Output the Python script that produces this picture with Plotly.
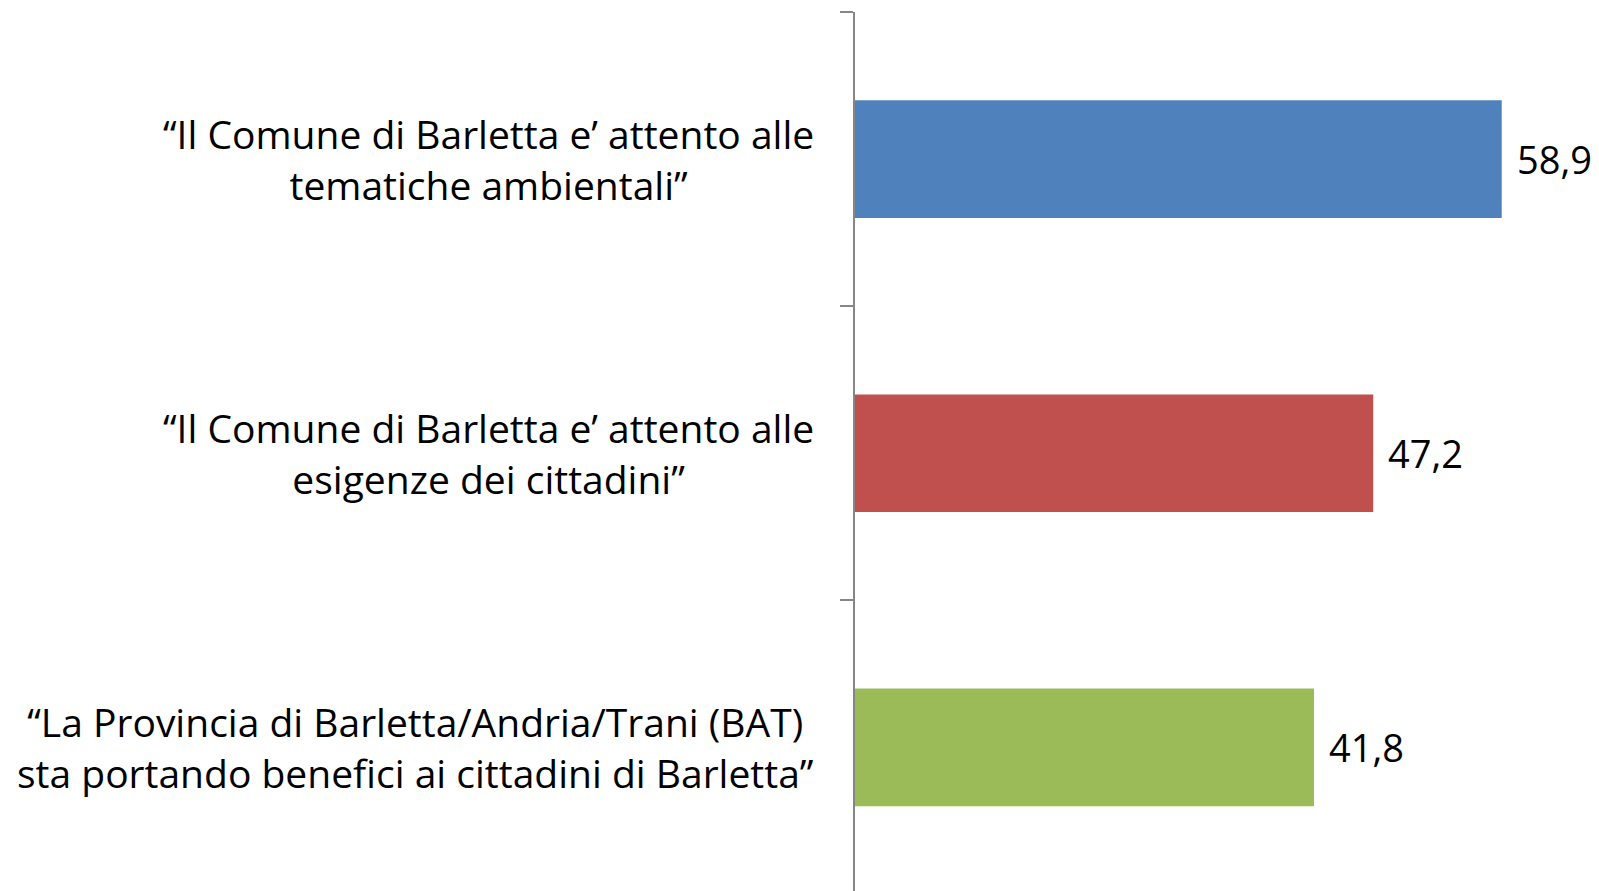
import plotly.graph_objects as go

# statements (top to bottom) and agreement values
labels = [
    "“Il Comune di Barletta e’ attento alle<br>tematiche ambientali”",
    "“Il Comune di Barletta e’ attento alle<br>esigenze dei cittadini”",
    "“La Provincia di Barletta/Andria/Trani (BAT)<br>sta portando benefici ai cittadini di Barletta”",
]
values = [58.9, 47.2, 41.8]
value_text = ["58,9", "47,2", "41,8"]
colors = ["#4F81BD", "#C0504D", "#9BBB59"]

FONT = "Open Sans"
AXIS_GREY = "#868686"

fig = go.Figure()
fig.add_trace(go.Bar(
    x=values,
    y=labels,
    orientation="h",
    marker=dict(color=colors, line=dict(width=0)),
    width=0.4,
    hoverinfo="skip",
))

# value labels right of each bar
for lab, v, t in zip(labels, values, value_text):
    fig.add_annotation(x=v, y=lab, xref="x", yref="y", text=t,
                       showarrow=False, xanchor="left", xshift=13,
                       font=dict(family=FONT, size=38, color="#000000"))

# category labels, centred lines, right edge ~39px left of the axis
for lab in labels:
    fig.add_annotation(x=0, y=lab, xref="paper", yref="y", text=lab,
                       showarrow=False, xanchor="right", align="center",
                       xshift=-39,
                       font=dict(family=FONT, size=39, color="#000000"))

# page body has an 8px margin, so the figure is sized to fill the rest
fig.update_layout(
    width=1591, height=883,
    margin=dict(l=847, r=0, t=4, b=0),
    paper_bgcolor="white", plot_bgcolor="white",
    showlegend=False,
    xaxis=dict(range=[0, 67.76], visible=False, fixedrange=True),
    yaxis=dict(
        categoryorder="array",
        categoryarray=labels[::-1],
        range=[-0.488, 2.5],
        showline=True, linecolor=AXIS_GREY, linewidth=2,
        ticks="outside", ticklen=13, tickwidth=2, tickcolor=AXIS_GREY,
        tickson="boundaries",
        showticklabels=False, showgrid=False, zeroline=False,
    ),
)

fig.write_html("out.html")
